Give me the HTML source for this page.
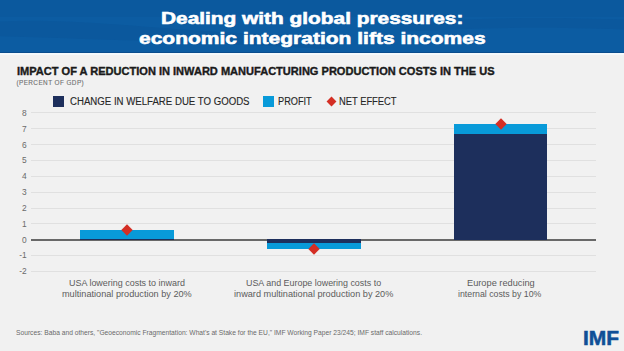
<!DOCTYPE html>
<html><head><meta charset="utf-8">
<style>
*{margin:0;padding:0;box-sizing:border-box}
html,body{width:624px;height:351px;overflow:hidden;background:#f1f1f1;font-family:"Liberation Sans",sans-serif}
#page{position:relative;width:624px;height:351px;overflow:hidden}
.abs{position:absolute;white-space:nowrap;transform-origin:0 0}
#banner{position:absolute;left:0;top:0;width:624px;height:52.5px;background:#0c5ea6}
#bline{position:absolute;left:0;top:52.5px;width:624px;height:2px;background:#f8f8f8}
.grid{position:absolute;left:31px;width:565px;height:1px;background:#e0e0e0}
.bar{position:absolute}
.nav{background:#1d2f5c}
.blu{background:#089ad9}
.tick{position:absolute;left:0;width:26.6px;text-align:right;font-size:8.4px;line-height:8.4px;color:#6a6a6a}
.dia{position:absolute;width:8px;height:8px;background:#d42e24;transform:rotate(45deg)}
</style></head>
<body><div id="page">
<div id="banner" style="position:absolute;left:0;top:0;width:624px;height:53px;background:linear-gradient(#0b599e 0,#0b599e 17px,#0c5ca2 17px,#0c5ca2 51.6px,#0a4d8e 51.6px)"></div>
<svg id="waves" width="624" height="53" viewBox="0 0 624 53" style="position:absolute;left:0;top:0">
<path d="M-10 22 C 50 18, 110 24, 190 30 S 300 34, 340 40 L340 50 C 250 44, 120 40, -10 36 Z" fill="#0b589d"/>
<path d="M400 24 C 470 18, 540 16, 634 20 L634 30 C 540 26, 470 28, 400 32 Z" fill="#0b589d"/>
</svg>
<div id="bline" style="position:absolute;left:0;top:53px;width:624px;height:2.2px;background:#f4f9fc"></div>
<div id="title1" class="abs" style="left:160.77px;top:9.8px;font-size:17px;line-height:17px;color:#fff;font-weight:bold;transform:scaleX(1.2263);letter-spacing:0px;-webkit-text-stroke:0.6px #fff;">Dealing with global pressures:</div>
<div id="title2" class="abs" style="left:138.76px;top:29.7px;font-size:17px;line-height:17px;color:#fff;font-weight:bold;transform:scaleX(1.2355);letter-spacing:0px;-webkit-text-stroke:0.6px #fff;">economic integration lifts incomes</div>
<div id="sub" class="abs" style="left:16.87px;top:66.5px;font-size:10.2px;line-height:10.2px;color:#1a1a1a;font-weight:bold;transform:scaleX(1.0841);letter-spacing:0px;-webkit-text-stroke:0.35px #1a1a1a;">IMPACT OF A REDUCTION IN INWARD MANUFACTURING PRODUCTION COSTS IN THE US</div>
<div id="pct" class="abs" style="left:16.4px;top:80.28240000000001px;font-size:6.4px;line-height:6.4px;color:#6e6e6e;font-weight:normal;transform:scaleX(1.0);letter-spacing:0.425px;-webkit-text-stroke:0.1px #6e6e6e;">(PERCENT OF GDP)</div>
<div id="leg1" class="abs" style="left:69.51px;top:96.7px;font-size:10.0px;line-height:10.0px;color:#262626;font-weight:normal;transform:scaleX(0.9635);letter-spacing:0px;-webkit-text-stroke:0.12px #262626;">CHANGE IN WELFARE DUE TO GOODS</div>
<div id="leg2" class="abs" style="left:278.06px;top:96.7px;font-size:10.0px;line-height:10.0px;color:#262626;font-weight:normal;transform:scaleX(0.9202);letter-spacing:0px;-webkit-text-stroke:0.12px #262626;">PROFIT</div>
<div id="leg3" class="abs" style="left:338.54px;top:96.7px;font-size:10.0px;line-height:10.0px;color:#262626;font-weight:normal;transform:scaleX(0.9356);letter-spacing:0px;-webkit-text-stroke:0.12px #262626;">NET EFFECT</div>
<div id="cat1a" class="abs" style="left:69.08px;top:278.3px;font-size:9.5px;line-height:9.5px;color:#5c5c5c;font-weight:normal;transform:scaleX(0.942);letter-spacing:0px;">USA lowering costs to inward</div>
<div id="cat1b" class="abs" style="left:62.04px;top:288.5px;font-size:9.5px;line-height:9.5px;color:#5c5c5c;font-weight:normal;transform:scaleX(0.9633);letter-spacing:0px;">multinational production by 20%</div>
<div id="cat2a" class="abs" style="left:246.05px;top:278.3px;font-size:9.5px;line-height:9.5px;color:#5c5c5c;font-weight:normal;transform:scaleX(0.9371);letter-spacing:0px;">USA and Europe lowering costs to</div>
<div id="cat2b" class="abs" style="left:234.01px;top:288.5px;font-size:9.5px;line-height:9.5px;color:#5c5c5c;font-weight:normal;transform:scaleX(0.964);letter-spacing:0px;">inward multinational production by 20%</div>
<div id="cat3a" class="abs" style="left:466.94px;top:278.3px;font-size:9.5px;line-height:9.5px;color:#5c5c5c;font-weight:normal;transform:scaleX(0.9717);letter-spacing:0px;">Europe reducing</div>
<div id="cat3b" class="abs" style="left:458.14px;top:288.5px;font-size:9.5px;line-height:9.5px;color:#5c5c5c;font-weight:normal;transform:scaleX(0.9225);letter-spacing:0px;">internal costs by 10%</div>
<div id="foot" class="abs" style="left:15.73px;top:328.9px;font-size:7.4px;line-height:7.4px;color:#6a6a6a;font-weight:normal;transform:scaleX(0.9046);letter-spacing:0px;">Sources: Baba and others, &quot;Geoeconomic Fragmentation: What&#39;s at Stake for the EU,&quot; IMF Working Paper 23/245; IMF staff calculations.</div>
<div id="imf" class="abs" style="left:582.94px;top:328.10069999999996px;font-size:20.2px;line-height:20.2px;color:#0f4f97;font-weight:bold;transform:scaleX(1.0383);letter-spacing:0px;-webkit-text-stroke:0.5px #0f4f97;">IMF</div>
<div class="grid" style="top:112.40px"></div>
<div class="grid" style="top:128.25px"></div>
<div class="grid" style="top:144.10px"></div>
<div class="grid" style="top:159.95px"></div>
<div class="grid" style="top:175.80px"></div>
<div class="grid" style="top:191.65px"></div>
<div class="grid" style="top:207.50px"></div>
<div class="grid" style="top:223.35px"></div>
<div class="grid" style="top:255.05px"></div>
<div class="grid" style="top:270.90px"></div>
<div class="abs" style="left:31px;top:239px;width:565px;height:2px;background:#686868"></div>
<div class="abs" style="left:53px;top:96px;width:11px;height:11px;background:#1d2f5c"></div>
<div class="abs" style="left:263px;top:96px;width:11px;height:11px;background:#089ad9"></div>
<div class="abs" style="left:327.7px;top:98px;width:7px;height:7px;background:#d42e24;transform:rotate(45deg);transform-origin:50% 50%"></div>
<div class="bar blu" style="left:80px;top:230px;width:94px;height:9.2px"></div>
<div class="bar nav" style="left:80px;top:238.7px;width:94px;height:1.8px"></div>
<div class="bar blu" style="left:267px;top:242.8px;width:94px;height:6.6px"></div>
<div class="bar nav" style="left:267px;top:238.9px;width:94px;height:4.4px"></div>
<div class="bar blu" style="left:453.8px;top:124.4px;width:93.7px;height:10.6px"></div>
<div class="bar nav" style="left:453.8px;top:134.3px;width:93.7px;height:106px"></div>
<div class="dia" style="left:123.10px;top:226.00px"></div>
<div class="dia" style="left:309.70px;top:245.40px"></div>
<div class="dia" style="left:496.50px;top:120.20px"></div>
<div class="tick" style="top:108.80px">8</div>
<div class="tick" style="top:124.65px">7</div>
<div class="tick" style="top:140.50px">6</div>
<div class="tick" style="top:156.35px">5</div>
<div class="tick" style="top:172.20px">4</div>
<div class="tick" style="top:188.05px">3</div>
<div class="tick" style="top:203.90px">2</div>
<div class="tick" style="top:219.75px">1</div>
<div class="tick" style="top:235.60px">0</div>
<div class="tick" style="top:251.45px">-1</div>
<div class="tick" style="top:267.30px">-2</div>
</div></body></html>
